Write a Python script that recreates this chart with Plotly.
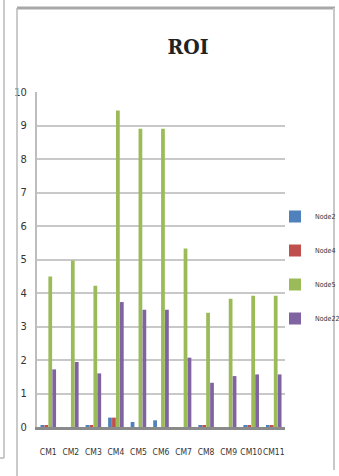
import plotly.graph_objects as go

categories = ["CM1", "CM2", "CM3", "CM4", "CM5", "CM6", "CM7", "CM8", "CM9", "CM10", "CM11"]
node2 = [0.05, 0.0, 0.05, 0.28, 0.15, 0.2, 0.0, 0.05, 0.0, 0.05, 0.05]
node4 = [0.05, 0.0, 0.05, 0.28, 0.0, 0.0, 0.0, 0.05, 0.0, 0.05, 0.05]
node5 = [4.49, 4.97, 4.22, 9.45, 8.9, 8.9, 5.33, 3.41, 3.83, 3.92, 3.92]
node22 = [1.72, 1.94, 1.6, 3.73, 3.5, 3.5, 2.07, 1.32, 1.52, 1.57, 1.57]
y_ticks = [0, 1, 2, 3, 4, 5, 6, 7, 8, 9, 10]

series = [("Node2", node2, "#4F81BD"), ("Node4", node4, "#C0504D"),
          ("Node5", node5, "#9BBB59"), ("Node22", node22, "#8064A2")]

W, H = 339, 476
L, R, T, B = 37, 54, 92, 49
pw, ph = W - L - R, H - T - B

def px(x):
    return (x - L) / pw

def py(y):
    return (H - B - y) / ph

fig = go.Figure()
for i, (name, vals, col) in enumerate(series):
    fig.add_trace(go.Bar(x=categories, y=vals, name=name, marker_color=col,
                         marker_line_width=0, legendgroup=str(i)))

font_c = "Liberation Sans Narrow, DejaVu Sans Condensed, Arial Narrow, Liberation Sans, sans-serif"
fig.update_layout(
    width=W, height=H,
    margin=dict(l=L, r=R, t=T, b=B, autoexpand=False),
    paper_bgcolor="white", plot_bgcolor="white",
    barmode="group", bargap=0.3, bargroupgap=0.05,
    title=dict(text="<b>ROI</b>", x=188 / W, xanchor="center", y=1 - 47 / H, yanchor="middle",
               font=dict(family="DejaVu Serif Condensed, Liberation Serif, serif", size=21, color="#222")),
    font=dict(family=font_c, size=10, color="#333"),
    legend=dict(x=px(275), y=py(202), xanchor="left", yanchor="top", tracegroupgap=15,
                font=dict(size=7, color="#333"), itemwidth=30, bgcolor="rgba(0,0,0,0)",
                borderwidth=0),
    showlegend=True,
)
fig.update_xaxes(showgrid=False, showline=True, linecolor="#8a8a8a", linewidth=3,
                 ticks="", ticklabelstandoff=15, tickfont=dict(size=8.5, color="#333"),
                 tickangle=0)
fig.update_yaxes(range=[0, 10], tickvals=y_ticks, showgrid=True, gridcolor="#c8c8c8", gridwidth=2,
                 showline=True, linecolor="#bdbdbd", linewidth=2, ticks="", zeroline=False,
                 tickfont=dict(size=11, color="#333"), ticklabelstandoff=6)

# chart frame and neighbouring panel edge
frame = "#a8a8a8"
fig.add_shape(type="line", xref="paper", yref="paper", x0=px(17), x1=px(335), y0=py(8), y1=py(8),
              line=dict(color=frame, width=3))
fig.add_shape(type="line", xref="paper", yref="paper", x0=px(17), x1=px(17), y0=py(8), y1=py(476),
              line=dict(color="#b8b8b8", width=1.5))
fig.add_shape(type="line", xref="paper", yref="paper", x0=px(334), x1=px(334), y0=py(8), y1=py(470),
              line=dict(color="#c8c8c8", width=2))
fig.add_shape(type="line", xref="paper", yref="paper", x0=px(4), x1=px(4), y0=py(0), y1=py(458),
              line=dict(color="#b8b8b8", width=1.5))
fig.add_shape(type="line", xref="paper", yref="paper", x0=px(0), x1=px(4), y0=py(458), y1=py(458),
              line=dict(color="#b8b8b8", width=1.5))

fig.write_html("out.html", config={"displayModeBar": False},
               post_script="document.body.style.margin='0';document.body.style.overflow='hidden';")
